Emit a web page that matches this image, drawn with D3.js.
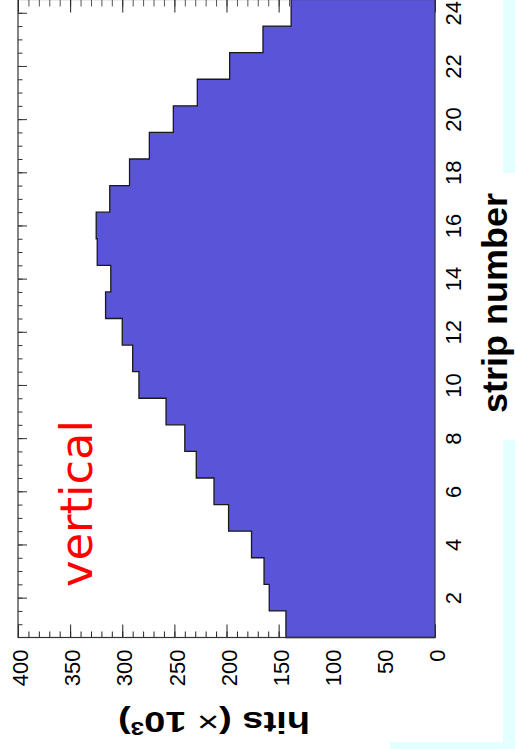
<!DOCTYPE html>
<html>
<head>
<meta charset="utf-8">
<script src="https://cdn.jsdelivr.net/npm/d3@7/dist/d3.min.js"></script>
<style>
  html, body { margin: 0; padding: 0; background: #e4ffff; }
  svg { display: block; }
</style>
</head>
<body>
<svg id="chart" width="515" height="749"></svg>
<script>
// Hits per strip (in thousands), vertical strips 1..24
const strips = [1, 2, 3, 4, 5, 6, 7, 8, 9, 10, 11, 12, 13, 14, 15, 16, 17, 18, 19, 20, 21, 22, 23, 24];
const hits = [143, 159, 164, 176, 198, 212, 229, 240, 258, 284, 290, 300,
              316, 311, 324, 325, 312, 293, 274, 251, 228, 197, 165, 138];

const stripTicks = [2, 4, 6, 8, 10, 12, 14, 16, 18, 20, 22, 24];
const hitTicks = [0, 50, 100, 150, 200, 250, 300, 350, 400];

const svg = d3.select("#chart");
const FONT = "'Liberation Sans', Arial, Helvetica, sans-serif";

// Canvas background (white pad over light cyan page)
svg.append("rect").attr("x", 0).attr("y", 0).attr("width", 515).attr("height", 749).attr("fill", "#e4ffff");
svg.append("rect").attr("x", 0).attr("y", 0).attr("width", 503).attr("height", 742).attr("fill", "#ffffff");
svg.append("rect").attr("x", 0).attr("y", 742).attr("width", 390).attr("height", 7).attr("fill", "#ffffff");
svg.append("rect").attr("x", 503).attr("y", 173).attr("width", 12).attr("height", 267).attr("fill", "#ffffff");

// Strip number runs upward along the right side; hits run leftward from the right edge
const y = d3.scaleLinear().domain([0.5, 24.5]).range([637.5, -0.5]);
const x = d3.scaleLinear().domain([0, 400]).range([435, 18]);
const x0 = x(0), x1 = x(400), yB = y(0.5), yT = y(24.5);

function styleTicks(g, color) {
  g.select(".domain").remove();
  g.selectAll(".tick line").attr("stroke", color).attr("stroke-width", 1);
}

// Minor and major ticks on the hits axis (bottom and top edges, pointing inward)
const minorHits = d3.range(0, 401, 10);
svg.append("g").attr("transform", `translate(0,${yB})`)
  .call(d3.axisBottom(x).tickValues(minorHits).tickSizeInner(-6).tickSizeOuter(0).tickFormat(""))
  .call(g => styleTicks(g, "#222"));
svg.append("g").attr("transform", `translate(0,${yB})`)
  .call(d3.axisBottom(x).tickValues(hitTicks).tickSizeInner(-13).tickSizeOuter(0).tickFormat(""))
  .call(g => styleTicks(g, "#222"));
svg.append("g").attr("transform", `translate(0,${yT})`)
  .call(d3.axisTop(x).tickValues(minorHits).tickSizeInner(-7).tickSizeOuter(0).tickFormat(""))
  .call(g => styleTicks(g, "#555"));
svg.append("g").attr("transform", `translate(0,${yT})`)
  .call(d3.axisTop(x).tickValues(hitTicks).tickSizeInner(-13).tickSizeOuter(0).tickFormat(""))
  .call(g => styleTicks(g, "#222"));

// Ticks on the strip axis (left edge, pointing inward)
const minorStrips = d3.range(1, 24.01, 0.5);
svg.append("g").attr("transform", `translate(${x1},0)`)
  .call(d3.axisLeft(y).tickValues(minorStrips).tickSizeInner(-4.5).tickSizeOuter(0).tickFormat(""))
  .call(g => styleTicks(g, "#333"));
svg.append("g").attr("transform", `translate(${x1},0)`)
  .call(d3.axisLeft(y).tickValues(stripTicks).tickSizeInner(-9).tickSizeOuter(0).tickFormat(""))
  .call(g => styleTicks(g, "#333"));

// Histogram: filled step outline from the zero line
const pts = [[x0, y(0.5)]];
strips.forEach((s, i) => {
  pts.push([x(hits[i]), y(s - 0.5)]);
  pts.push([x(hits[i]), y(s + 0.5)]);
});
pts.push([x0, y(24.5)]);
svg.append("path")
  .attr("d", d3.line()(pts) + "Z")
  .attr("fill", "#5a54d8")
  .attr("stroke", "none");
const outline = [];
strips.forEach((s, i) => {
  if (i > 0) outline.push([x(hits[i]), y(s - 0.5)]);
  else outline.push([x(hits[i]), y(s - 0.5)]);
  outline.push([x(hits[i]), y(s + 0.5)]);
});
outline.unshift([x0, y(0.5)]);
svg.append("path")
  .attr("d", d3.line()(outline))
  .attr("fill", "none")
  .attr("stroke", "#1a1a1a")
  .attr("stroke-width", 1.3);

// Frame
svg.append("rect")
  .attr("x", x1).attr("y", yT)
  .attr("width", x0 - x1).attr("height", yB - yT)
  .attr("fill", "none").attr("stroke", "#333").attr("stroke-width", 1.2);

// Hits tick labels (below the frame, reading upward)
const hitAxis = svg.append("g").attr("transform", `translate(0,${yB})`)
  .call(d3.axisBottom(x).tickValues(hitTicks).tickSize(0).tickFormat(d3.format("d")));
hitAxis.select(".domain").remove();
hitAxis.selectAll("text")
  .attr("x", 0).attr("y", 0).attr("dy", "0.35em")
  .attr("transform", "translate(2,12) rotate(-90)")
  .attr("text-anchor", "end")
  .attr("fill", "#000")
  .style("font-family", FONT).style("font-size", "22px");

// Strip tick labels (right of the frame, reading upward)
const stripAxis = svg.append("g").attr("transform", `translate(${x0},0)`)
  .call(d3.axisRight(y).tickValues(stripTicks).tickSize(0).tickFormat(d3.format("d")));
stripAxis.select(".domain").remove();
stripAxis.selectAll("text")
  .attr("x", 0).attr("y", 0).attr("dy", 0)
  .attr("transform", "translate(26,0) rotate(-90)")
  .attr("text-anchor", "middle")
  .attr("fill", "#000")
  .style("font-family", FONT).style("font-size", "22px");

// Axis titles
svg.append("text")
  .attr("transform", "translate(507,413) rotate(-90)")
  .attr("text-anchor", "start")
  .attr("textLength", 220).attr("lengthAdjust", "spacingAndGlyphs")
  .style("font-family", FONT).style("font-size", "35px").style("font-weight", "bold")
  .text("strip number");

const hitTitle = svg.append("text")
  .attr("transform", "translate(310,712) rotate(180)")
  .attr("text-anchor", "start")
  .attr("textLength", 192).attr("lengthAdjust", "spacingAndGlyphs")
  .style("font-family", FONT).style("font-size", "30px").style("font-weight", "bold");
hitTitle.append("tspan").text("hits (");
hitTitle.append("tspan").style("font-weight", "normal").text("\u00d7");
hitTitle.append("tspan").text(" 10");
hitTitle.append("tspan").attr("baseline-shift", "super").style("font-size", "19px").text("3");
hitTitle.append("tspan").text(")");

// Panel label
svg.append("text")
  .attr("transform", "translate(92,587) rotate(-90)")
  .attr("text-anchor", "start")
  .attr("textLength", 167).attr("lengthAdjust", "spacingAndGlyphs")
  .attr("fill", "#ff0000")
  .style("font-family", "'Comic Sans MS', 'DejaVu Sans', sans-serif")
  .style("font-size", "44px")
  .text("vertical");
</script>
</body>
</html>
